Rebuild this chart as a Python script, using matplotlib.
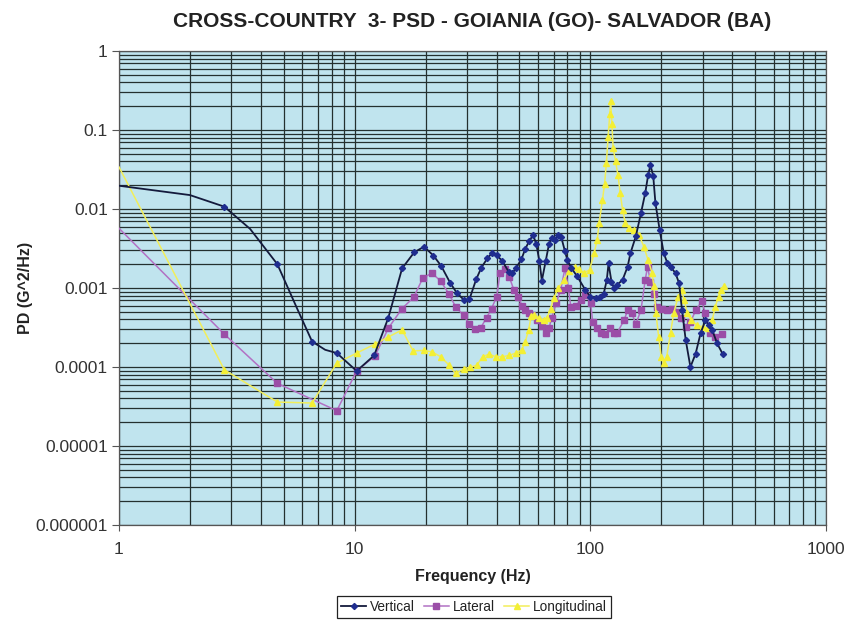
import numpy as np
import matplotlib
matplotlib.use("Agg")
import matplotlib.pyplot as plt
from matplotlib.ticker import FixedLocator, LogLocator, NullFormatter

# --- data (Hz, G^2/Hz) ---
vert_f = [1, 2.0, 2.8, 3.6, 4.7, 5.7, 6.6, 7.5, 8.4, 10.2, 12.1, 13.9, 15.9, 17.9,
          19.7, 21.6, 23.3, 25.4, 27.1, 29.2, 30.7, 32.8, 34.5, 36.6, 38.2, 40.1,
          42.4, 45.0, 46.7, 48.3, 51.0, 52.9, 55.0, 57.2, 59.0, 60.8, 62.3, 64.7,
          66.8, 68.6, 70.8, 73.1, 75.3, 78.1, 80.0, 83.0, 88.0, 95.4, 100, 105.6,
          110, 114, 117.5, 119.5, 123, 126, 130, 137, 144, 148, 156, 164, 171, 176,
          180, 185, 189, 197, 205, 212, 219, 230, 238, 245, 254, 266, 280, 294,
          308, 318, 329, 345, 365]
vert_p = [0.0197, 0.015, 0.0107, 0.0056, 0.002, 5.5e-4, 2.1e-4, 1.65e-4, 1.5e-4,
          8.9e-5, 1.4e-4, 4.2e-4, 1.77e-3, 2.83e-3, 3.33e-3, 2.57e-3, 1.9e-3,
          1.17e-3, 8.7e-4, 7.0e-4, 7.2e-4, 1.29e-3, 1.81e-3, 2.38e-3, 2.75e-3,
          2.6e-3, 2.18e-3, 1.61e-3, 1.54e-3, 1.77e-3, 2.3e-3, 3.1e-3, 3.9e-3,
          4.7e-3, 3.6e-3, 2.2e-3, 1.24e-3, 2.2e-3, 3.6e-3, 4.3e-3, 4.1e-3, 4.7e-3,
          4.4e-3, 2.9e-3, 2.24e-3, 1.8e-3, 1.4e-3, 9.4e-4, 7.8e-4, 7.4e-4, 7.8e-4,
          8.5e-4, 1.26e-3, 2.05e-3, 1.2e-3, 1.0e-3, 1.1e-3, 1.26e-3, 1.86e-3,
          2.75e-3, 4.5e-3, 8.8e-3, 0.0158, 0.027, 0.036, 0.026, 0.0118, 0.0054,
          2.75e-3, 2.1e-3, 1.86e-3, 1.54e-3, 1.15e-3, 5.3e-4, 2.2e-4, 1.0e-4,
          1.48e-4, 2.7e-4, 3.9e-4, 3.4e-4, 2.95e-4, 2.0e-4, 1.45e-4]
vert_nomark = [0, 1, 3, 5, 7]

lat_f = [1, 2.8, 4.7, 8.4, 10.2, 12.2, 13.9, 15.9, 17.8, 19.5, 21.3, 23.2, 25.2,
         26.8, 29.0, 30.6, 32.4, 34.3, 36.3, 38.1, 40.1, 41.4, 43.4, 45.3, 47.5,
         49.3, 51.4, 53.0, 54.7, 56.5, 59.3, 62.3, 64.7, 66.8, 68.6, 71.6, 74.8,
         78.1, 80.7, 82.7, 86.8, 91.7, 95.4, 100.3, 102.4, 106.9, 111, 116, 121,
         126, 130, 139, 144, 150, 156, 164, 171, 175, 180, 186, 191, 201, 211,
         222, 230, 242, 254, 266, 280, 297, 308, 323, 339, 361]
lat_p = [5.7e-3, 2.6e-4, 6.2e-5, 2.8e-5, 8.9e-5, 1.38e-4, 3.1e-4, 5.5e-4, 7.6e-4,
         1.35e-3, 1.54e-3, 1.22e-3, 8.3e-4, 5.8e-4, 4.5e-4, 3.55e-4, 3.0e-4,
         3.15e-4, 4.2e-4, 5.5e-4, 7.8e-4, 1.55e-3, 1.74e-3, 1.38e-3, 9.3e-4,
         7.6e-4, 6.0e-4, 5.2e-4, 4.8e-4, 4.6e-4, 3.9e-4, 3.3e-4, 2.7e-4, 3.1e-4,
         4.2e-4, 6.5e-4, 9.3e-4, 1.78e-3, 1.0e-3, 5.8e-4, 6.0e-4, 7.1e-4, 8.1e-4,
         6.5e-4, 3.7e-4, 3.1e-4, 2.7e-4, 2.6e-4, 3.1e-4, 2.7e-4, 2.7e-4, 3.9e-4,
         5.2e-4, 4.8e-4, 3.5e-4, 5.2e-4, 1.26e-3, 1.86e-3, 1.2e-3, 8.5e-4,
         5.8e-4, 5.5e-4, 5.2e-4, 5.5e-4, 5.0e-4, 4.2e-4, 3.2e-4, 3.7e-4, 5.2e-4,
         6.8e-4, 4.8e-4, 2.7e-4, 2.4e-4, 2.6e-4]

long_f = [1, 2.8, 4.7, 6.6, 8.4, 10.2, 12.2, 13.9, 15.9, 17.7, 19.7, 21.3, 23.2,
          25.2, 26.8, 29.2, 31, 33, 34.9, 37.1, 39.8, 42.4, 45.2, 48.3, 51.2,
          53.0, 54.7, 56.2, 57.5, 60.4, 63.7, 65.6, 67.8, 70, 73.1, 77.2, 81.1,
          86.1, 89.4, 94.0, 99.3, 103.8, 107, 109, 112.6, 115, 117, 119, 121, 122,
          123.5, 125, 128, 131, 134, 137, 141, 146, 153, 161, 169, 176, 183, 186,
          190, 195, 200, 205, 211, 219, 226, 236, 244, 250, 258, 268, 283, 302,
          317, 329, 339, 350, 360, 370]
long_p = [0.034, 9.2e-5, 3.6e-5, 3.5e-5, 1.12e-4, 1.5e-4, 1.95e-4, 2.4e-4,
          2.95e-4, 1.6e-4, 1.62e-4, 1.55e-4, 1.35e-4, 1.05e-4, 8.3e-5, 9.5e-5,
          1.0e-4, 1.05e-4, 1.35e-4, 1.45e-4, 1.35e-4, 1.35e-4, 1.4e-4, 1.5e-4,
          1.65e-4, 2.1e-4, 2.95e-4, 4.4e-4, 4.6e-4, 4.2e-4, 3.9e-4, 4.2e-4,
          5.5e-4, 7.4e-4, 1.0e-3, 1.26e-3, 1.62e-3, 1.86e-3, 1.74e-3, 1.55e-3,
          1.7e-3, 2.75e-3, 4.1e-3, 6.6e-3, 0.0129, 0.021, 0.038, 0.082, 0.16,
          0.235, 0.12, 0.059, 0.04, 0.027, 0.016, 0.0098, 6.6e-3, 5.8e-3, 5.4e-3,
          4.7e-3, 3.3e-3, 2.24e-3, 1.55e-3, 1.05e-3, 4.8e-4, 2.4e-4, 1.35e-4,
          1.12e-4, 1.35e-4, 2.7e-4, 4.8e-4, 7.8e-4, 9.3e-4, 7.1e-4, 4.8e-4,
          3.9e-4, 3.4e-4, 3.2e-4, 3.1e-4, 3.9e-4, 5.8e-4, 7.8e-4, 9.3e-4, 1.05e-3]

y_ticks = [1, 0.1, 0.01, 0.001, 0.0001, 0.00001, 0.000001]
y_labels = ["1", "0.1", "0.01", "0.001", "0.0001", "0.00001", "0.000001"]
x_ticks = [1, 10, 100, 1000]
x_labels = ["1", "10", "100", "1000"]

plt.rcParams['font.family'] = ['Liberation Sans', 'DejaVu Sans']

fig = plt.figure(figsize=(8.48, 6.21), dpi=100)
ax = fig.add_axes([0.1403, 0.1546, 0.8337, 0.7633])
ax.set_facecolor('#c0e4ee')

vm = [i for i in range(len(vert_f)) if i not in vert_nomark]
ax.plot(vert_f, vert_p, color='#141a3c', lw=1.3, marker='D', ms=3.1,
        mfc='#1f2d8f', mec='#1f2d8f', markevery=vm, label='Vertical', zorder=4)
ax.plot(lat_f, lat_p, color='#b271c4', lw=1.1, marker='s', ms=3.7,
        mfc='#9b4ea7', mec='#9b4ea7', markevery=slice(1, None), label='Lateral', zorder=3)
ax.plot(long_f, long_p, color='#f2ee5a', lw=1.1, marker='^', ms=4.2,
        mfc='#f3ef35', mec='#f3ef35', markevery=slice(1, None), label='Longitudinal', zorder=3)

ax.set_xscale('log')
ax.set_yscale('log')
ax.set_xlim(1, 1000)
ax.set_ylim(1e-6, 1)

ax.yaxis.set_major_locator(FixedLocator(y_ticks))
ax.set_yticklabels(y_labels)
ax.xaxis.set_major_locator(FixedLocator(x_ticks))
ax.set_xticklabels(x_labels)
ax.xaxis.set_minor_locator(LogLocator(base=10, subs=np.arange(2, 10)))
ax.yaxis.set_minor_locator(LogLocator(base=10, subs=np.arange(2, 10), numticks=20))
ax.xaxis.set_minor_formatter(NullFormatter())
ax.yaxis.set_minor_formatter(NullFormatter())

ax.grid(True, which='both', color='#24302f', lw=0.9)
ax.set_axisbelow(True)
ax.tick_params(axis='both', which='minor', length=0)
ax.tick_params(axis='y', which='major', direction='out', length=5, width=0.8,
               color='#555555', labelsize=12.5, labelcolor='#333333', pad=3)
ax.tick_params(axis='x', which='major', direction='out', length=4, width=0.8,
               color='#555555', labelsize=12.5, labelcolor='#333333', pad=8)
for s in ax.spines.values():
    s.set_color('#555555')
    s.set_linewidth(0.9)

ax.set_title('CROSS-COUNTRY  3- PSD - GOIANIA (GO)- SALVADOR (BA)',
             fontsize=15, fontweight='bold', color='#222222', pad=17)
ax.set_xlabel('Frequency (Hz)', fontsize=11.5, fontweight='bold', color='#222222', labelpad=9)
ax.set_ylabel('PD (G^2/Hz)', fontsize=11.5, fontweight='bold', color='#222222', labelpad=2)

leg = fig.legend(loc='center', bbox_to_anchor=(0.559, 0.0225), ncol=3, fontsize=9.8,
                 frameon=True, fancybox=False, edgecolor='#222222', framealpha=1,
                 handlelength=1.8, handletextpad=0.3, columnspacing=0.7,
                 borderpad=0.3, borderaxespad=0)
leg.get_frame().set_linewidth(0.9)
for t in leg.get_texts():
    t.set_color('#222222')

fig.savefig('out.png', dpi=100)
